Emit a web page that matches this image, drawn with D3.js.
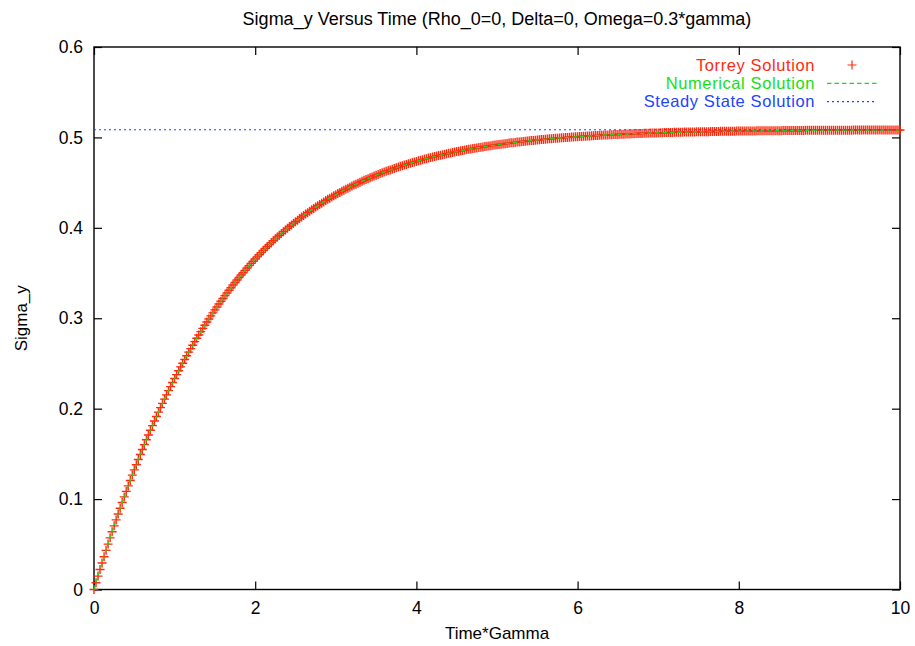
<!DOCTYPE html>
<html>
<head>
<meta charset="utf-8">
<script src="https://cdn.jsdelivr.net/npm/d3@7/dist/d3.min.js"></script>
<style>
  body { margin: 0; background: #fff; }
  svg { display: block; }
  text { font-family: "Liberation Sans", Arial, Helvetica, sans-serif; fill: #000; }
</style>
</head>
<body>
<svg id="chart" width="915" height="646"></svg>
<script>
// Text
const chartTitle = "Sigma_y Versus Time (Rho_0=0, Delta=0, Omega=0.3*gamma)";
const xLabel = "Time*Gamma";
const yLabel = "Sigma_y";
const seriesNames = ["Torrey Solution", "Numerical Solution", "Steady State Solution"];

// Axes
const xTicks = [0, 2, 4, 6, 8, 10];
const yTicks = [0, 0.1, 0.2, 0.3, 0.4, 0.5, 0.6];

// Torrey solution, sampled every 0.025 in Time*Gamma from 0 to 10 (ten samples per row)
const torreyStart = 0;
const torreyStep = 0.025;
const torreySigmaY = [
  0.0000, 0.0075, 0.0148, 0.0221, 0.0293, 0.0363, 0.0433, 0.0502, 0.0571, 0.0638,
  0.0704, 0.0770, 0.0835, 0.0898, 0.0962, 0.1024, 0.1085, 0.1146, 0.1206, 0.1265,
  0.1323, 0.1380, 0.1437, 0.1493, 0.1548, 0.1602, 0.1656, 0.1709, 0.1761, 0.1812,
  0.1863, 0.1913, 0.1962, 0.2011, 0.2059, 0.2106, 0.2153, 0.2199, 0.2244, 0.2289,
  0.2333, 0.2377, 0.2419, 0.2462, 0.2503, 0.2544, 0.2585, 0.2625, 0.2664, 0.2702,
  0.2741, 0.2778, 0.2815, 0.2852, 0.2888, 0.2923, 0.2958, 0.2992, 0.3026, 0.3060,
  0.3093, 0.3125, 0.3157, 0.3188, 0.3219, 0.3250, 0.3280, 0.3309, 0.3338, 0.3367,
  0.3395, 0.3423, 0.3451, 0.3478, 0.3504, 0.3530, 0.3556, 0.3582, 0.3607, 0.3631,
  0.3655, 0.3679, 0.3703, 0.3726, 0.3749, 0.3771, 0.3793, 0.3815, 0.3836, 0.3857,
  0.3878, 0.3898, 0.3918, 0.3938, 0.3958, 0.3977, 0.3996, 0.4014, 0.4032, 0.4050,
  0.4068, 0.4085, 0.4102, 0.4119, 0.4136, 0.4152, 0.4168, 0.4184, 0.4199, 0.4215,
  0.4230, 0.4244, 0.4259, 0.4273, 0.4287, 0.4301, 0.4315, 0.4328, 0.4341, 0.4354,
  0.4367, 0.4379, 0.4392, 0.4404, 0.4416, 0.4428, 0.4439, 0.4450, 0.4462, 0.4473,
  0.4483, 0.4494, 0.4504, 0.4515, 0.4525, 0.4535, 0.4544, 0.4554, 0.4563, 0.4573,
  0.4582, 0.4591, 0.4600, 0.4608, 0.4617, 0.4625, 0.4633, 0.4641, 0.4649, 0.4657,
  0.4665, 0.4672, 0.4680, 0.4687, 0.4694, 0.4701, 0.4708, 0.4715, 0.4722, 0.4728,
  0.4735, 0.4741, 0.4747, 0.4754, 0.4760, 0.4765, 0.4771, 0.4777, 0.4783, 0.4788,
  0.4794, 0.4799, 0.4804, 0.4809, 0.4814, 0.4819, 0.4824, 0.4829, 0.4834, 0.4838,
  0.4843, 0.4847, 0.4852, 0.4856, 0.4860, 0.4865, 0.4869, 0.4873, 0.4877, 0.4880,
  0.4884, 0.4888, 0.4892, 0.4895, 0.4899, 0.4902, 0.4906, 0.4909, 0.4912, 0.4916,
  0.4919, 0.4922, 0.4925, 0.4928, 0.4931, 0.4934, 0.4937, 0.4940, 0.4942, 0.4945,
  0.4948, 0.4950, 0.4953, 0.4955, 0.4958, 0.4960, 0.4963, 0.4965, 0.4967, 0.4969,
  0.4972, 0.4974, 0.4976, 0.4978, 0.4980, 0.4982, 0.4984, 0.4986, 0.4988, 0.4990,
  0.4992, 0.4993, 0.4995, 0.4997, 0.4999, 0.5000, 0.5002, 0.5004, 0.5005, 0.5007,
  0.5008, 0.5010, 0.5011, 0.5013, 0.5014, 0.5015, 0.5017, 0.5018, 0.5019, 0.5021,
  0.5022, 0.5023, 0.5024, 0.5026, 0.5027, 0.5028, 0.5029, 0.5030, 0.5031, 0.5032,
  0.5033, 0.5034, 0.5035, 0.5036, 0.5037, 0.5038, 0.5039, 0.5040, 0.5041, 0.5042,
  0.5043, 0.5044, 0.5044, 0.5045, 0.5046, 0.5047, 0.5048, 0.5048, 0.5049, 0.5050,
  0.5050, 0.5051, 0.5052, 0.5053, 0.5053, 0.5054, 0.5054, 0.5055, 0.5056, 0.5056,
  0.5057, 0.5057, 0.5058, 0.5059, 0.5059, 0.5060, 0.5060, 0.5061, 0.5061, 0.5062,
  0.5062, 0.5063, 0.5063, 0.5063, 0.5064, 0.5064, 0.5065, 0.5065, 0.5066, 0.5066,
  0.5066, 0.5067, 0.5067, 0.5068, 0.5068, 0.5068, 0.5069, 0.5069, 0.5069, 0.5070,
  0.5070, 0.5070, 0.5071, 0.5071, 0.5071, 0.5071, 0.5072, 0.5072, 0.5072, 0.5073,
  0.5073, 0.5073, 0.5073, 0.5074, 0.5074, 0.5074, 0.5074, 0.5074, 0.5075, 0.5075,
  0.5075, 0.5075, 0.5076, 0.5076, 0.5076, 0.5076, 0.5076, 0.5076, 0.5077, 0.5077,
  0.5077, 0.5077, 0.5077, 0.5078, 0.5078, 0.5078, 0.5078, 0.5078, 0.5078, 0.5078,
  0.5079, 0.5079, 0.5079, 0.5079, 0.5079, 0.5079, 0.5079, 0.5079, 0.5080, 0.5080,
  0.5080, 0.5080, 0.5080, 0.5080, 0.5080, 0.5080, 0.5080, 0.5081, 0.5081, 0.5081,
  0.5081, 0.5081, 0.5081, 0.5081, 0.5081, 0.5081, 0.5081, 0.5081, 0.5081, 0.5082,
  0.5082, 0.5082, 0.5082, 0.5082, 0.5082, 0.5082, 0.5082, 0.5082, 0.5082, 0.5082,
  0.5082
];

// Numerical solution, sampled every 0.1 from 0 to 10
const numericalStart = 0;
const numericalStep = 0.1;
const numericalSigmaY = [
  0.0000, 0.0293, 0.0571, 0.0835, 0.1085, 0.1323, 0.1548, 0.1761, 0.1962, 0.2153,
  0.2333, 0.2503, 0.2664, 0.2815, 0.2958, 0.3093, 0.3219, 0.3338, 0.3451, 0.3556,
  0.3655, 0.3749, 0.3836, 0.3918, 0.3996, 0.4068, 0.4136, 0.4199, 0.4259, 0.4315,
  0.4367, 0.4416, 0.4462, 0.4504, 0.4544, 0.4582, 0.4617, 0.4649, 0.4680, 0.4708,
  0.4735, 0.4760, 0.4783, 0.4804, 0.4824, 0.4843, 0.4860, 0.4877, 0.4892, 0.4906,
  0.4919, 0.4931, 0.4942, 0.4953, 0.4963, 0.4972, 0.4980, 0.4988, 0.4995, 0.5002,
  0.5008, 0.5014, 0.5019, 0.5024, 0.5029, 0.5033, 0.5037, 0.5041, 0.5044, 0.5048,
  0.5050, 0.5053, 0.5056, 0.5058, 0.5060, 0.5062, 0.5064, 0.5066, 0.5067, 0.5069,
  0.5070, 0.5071, 0.5072, 0.5073, 0.5074, 0.5075, 0.5076, 0.5077, 0.5077, 0.5078,
  0.5079, 0.5079, 0.5080, 0.5080, 0.5080, 0.5081, 0.5081, 0.5081, 0.5082, 0.5082,
  0.5082
];

// Steady state value of Sigma_y
const steadyStateSigmaY = 0.5085;

// Colours
const colors = { torrey: "#ff2a10", numerical: "#16e016", steady: "#2244ff" };

// Layout
const margin = { left: 94, right: 15, top: 47, bottom: 56.5 };
const width = 915, height = 646;
const svg = d3.select("#chart");

const x = d3.scaleLinear().domain([0, 10]).range([margin.left, width - margin.right]);
const y = d3.scaleLinear().domain([0, 0.6]).range([height - margin.bottom, margin.top]);

const torreyData = torreySigmaY.map((v, i) => ({ t: torreyStart + i * torreyStep, v }));
const numericalData = numericalSigmaY.map((v, i) => ({ t: numericalStart + i * numericalStep, v }));

// Axes with inward ticks on all four sides
const tickLen = 8;
const fmt = d3.format("~g");
const axB = svg.append("g").attr("transform", `translate(0,${y.range()[0]})`)
  .call(d3.axisBottom(x).tickValues(xTicks).tickFormat(fmt).tickSize(-tickLen).tickPadding(12));
const axT = svg.append("g").attr("transform", `translate(0,${y.range()[1]})`)
  .call(d3.axisTop(x).tickValues(xTicks).tickFormat("").tickSize(-tickLen));
const axL = svg.append("g").attr("transform", `translate(${x.range()[0]},0)`)
  .call(d3.axisLeft(y).tickValues(yTicks).tickFormat(fmt).tickSize(-tickLen).tickPadding(11));
const axR = svg.append("g").attr("transform", `translate(${x.range()[1]},0)`)
  .call(d3.axisRight(y).tickValues(yTicks).tickFormat("").tickSize(-tickLen));

[axB, axT, axL, axR].forEach(g => {
  g.select(".domain").remove();
  g.selectAll(".tick line").attr("stroke", "#000").attr("stroke-width", 1.2);
  g.selectAll(".tick text").attr("font-size", 17.5).attr("font-family", "Liberation Sans, Arial, sans-serif").attr("fill", "#000");
});

// Plot frame
svg.append("rect")
  .attr("x", x.range()[0]).attr("y", y.range()[1])
  .attr("width", x.range()[1] - x.range()[0]).attr("height", y.range()[0] - y.range()[1])
  .attr("fill", "none").attr("stroke", "#000").attr("stroke-width", 1.4);

// Torrey solution as "+" markers
const plus = r => `M${-r},0H${r}M0,${-r}V${r}`;
svg.append("g").attr("class", "torrey")
  .selectAll("path").data(torreyData).join("path")
  .attr("transform", d => `translate(${x(d.t)},${y(d.v)})`)
  .attr("d", plus(4.5))
  .attr("stroke", colors.torrey).attr("stroke-width", 1.4).attr("fill", "none");

// Numerical solution as dashed line
svg.append("path").datum(numericalData)
  .attr("d", d3.line().x(d => x(d.t)).y(d => y(d.v)))
  .attr("fill", "none").attr("stroke", colors.numerical).attr("stroke-width", 1.2)
  .attr("stroke-dasharray", "4.5,3");

// Steady state as dotted line
svg.append("line")
  .attr("x1", x(0)).attr("x2", x(10))
  .attr("y1", y(steadyStateSigmaY)).attr("y2", y(steadyStateSigmaY))
  .attr("stroke", colors.steady).attr("stroke-width", 1.2).attr("stroke-dasharray", "2,3");

// Title and axis labels
svg.append("text").attr("x", (x.range()[0] + x.range()[1]) / 2).attr("y", 25)
  .attr("text-anchor", "middle").attr("font-size", 18).text(chartTitle);
svg.append("text").attr("x", (x.range()[0] + x.range()[1]) / 2).attr("y", 639)
  .attr("text-anchor", "middle").attr("font-size", 17).text(xLabel);
svg.append("text").attr("transform", `translate(27,${(y.range()[0] + y.range()[1]) / 2}) rotate(-90)`)
  .attr("text-anchor", "middle").attr("font-size", 17).text(yLabel);

// Legend
const legendTextX = 815, sampleX1 = 827, sampleX2 = 877;
const legendRows = [65, 83.3, 101.6];
const legend = svg.append("g").attr("class", "legend");
const legendColors = [colors.torrey, colors.numerical, colors.steady];
seriesNames.forEach((name, i) => {
  legend.append("text").attr("x", legendTextX).attr("y", legendRows[i]).attr("dy", "0.35em")
    .attr("text-anchor", "end").attr("font-size", 16.5).attr("letter-spacing", 0.6)
    .style("fill", legendColors[i]).text(name);
});
legend.append("path").attr("transform", `translate(${(sampleX1 + sampleX2) / 2},${legendRows[0]})`)
  .attr("d", plus(4.5)).attr("stroke", colors.torrey).attr("stroke-width", 1.2);
legend.append("line").attr("x1", sampleX1).attr("x2", sampleX2).attr("y1", legendRows[1]).attr("y2", legendRows[1])
  .attr("stroke", colors.numerical).attr("stroke-width", 1.2).attr("stroke-dasharray", "4.5,3");
legend.append("line").attr("x1", sampleX1).attr("x2", sampleX2).attr("y1", legendRows[2]).attr("y2", legendRows[2])
  .attr("stroke", colors.steady).attr("stroke-width", 1.2).attr("stroke-dasharray", "2,3");
</script>
</body>
</html>
